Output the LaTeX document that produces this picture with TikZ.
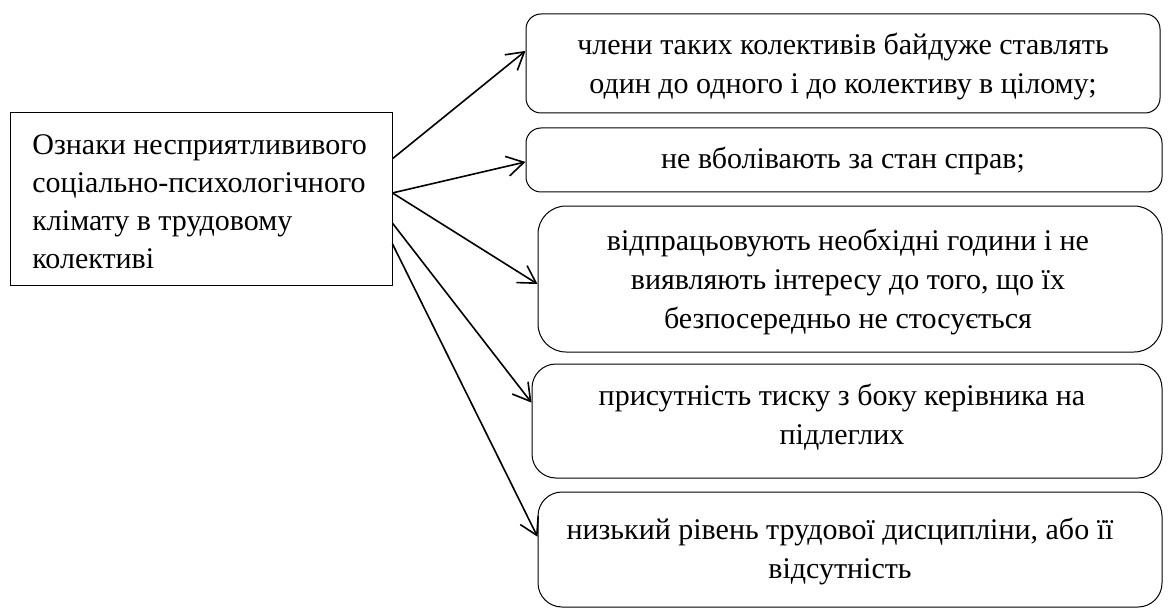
\documentclass[tikz,border=0pt]{standalone}
\usepackage{fontspec}
\setmainfont{Liberation Serif}
\usetikzlibrary{calc, arrows.meta}

\begin{document}
\begin{tikzpicture}[x=0.5pt, y=-0.5pt,
    font=\fontsize{15}{19.5}\selectfont,
    mainbox/.style={draw, line width=0.5pt, inner sep=0pt},
    signbox/.style={draw, line width=0.5pt, inner sep=0pt, rounded corners=#1},
    link/.style={line width=0.8pt, arrows={-Straight Barb[length=8.5pt, width=10pt]}}]

    \useasboundingbox (0,0) rectangle (1168,610);

    % Main box
    \node[mainbox, minimum width=191pt, minimum height=86pt] (signs) at (201,199) {};
    \node[anchor=west, align=left, inner sep=0pt, font=\fontsize{15}{19}\selectfont] (signstext) at (32,202)
         {Ознаки несприятлививого\\соціально-психологічного\\клімату в трудовому\\колективі};

    % Boxes on the right
    \node[signbox=7.5pt, minimum width=317pt, minimum height=49.5pt] (b1) at (843,63.5) {};
    \node[signbox=7.5pt, minimum width=318pt, minimum height=32pt] (b2) at (844,160) {};
    \node[signbox=14pt, minimum width=312pt, minimum height=73pt] (b3) at (850,279) {};
    \node[signbox=12pt, minimum width=315pt, minimum height=57pt] (b4) at (847,421) {};
    \node[signbox=12pt, minimum width=312pt, minimum height=57.5pt] (b5) at (850,549.5) {};

    % Texts
    \node[align=center] (t1) at (843,67) {члени таких колективів байдуже ставлять\\один до одного і до колективу в цілому;};
    \node[align=center] (t2) at (843,161) {не вболівають за стан справ;};
    \node[align=center] (t3) at (848,282) {відпрацьовують необхідні години і не\\виявляють інтересу до того, що їх\\безпосередньо не стосується};
    \node[align=center] (t4) at (842,417) {присутність тиску з боку керівника на\\підлеглих};
    \node[align=center] (t5) at (840,551) {низький рівень трудової дисципліни, або її\\відсутність};

    % Points
    \coordinate (s1) at ($(signs.north east)!0.267!(signs.south east)$);
    \coordinate (s2) at ($(signs.north east)!0.465!(signs.south east)$);
    \coordinate (s3) at ($(signs.north east)!0.64!(signs.south east)$);
    \coordinate (s4) at ($(signs.north east)!0.76!(signs.south east)$);

    % Draw the arrows
    \draw[link] (s1) -- ($(b1.north west)!0.374!(b1.south west)$);
    \draw[link] (s2) -- ($(b2.north west)!0.53!(b2.south west)$);
    \draw[link] (s2) -- ($(b3.north west)!0.534!(b3.south west)$);
    \draw[link] (s3) -- ($(b4.north west)!0.34!(b4.south west)$);
    \draw[link] (s4) -- ($(b5.north west)!0.39!(b5.south west)$);
\end{tikzpicture}
\end{document}
